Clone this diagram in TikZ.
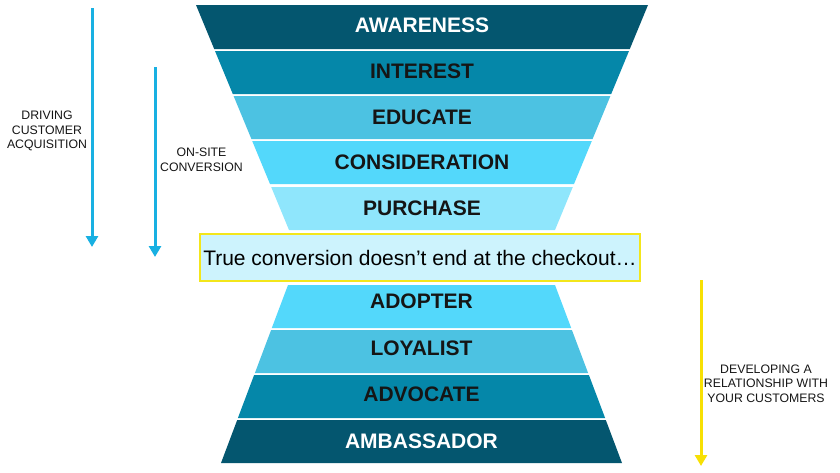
\documentclass[tikz,border=0pt]{standalone}
\usepackage{fontspec}
\setmainfont{Liberation Sans}
\usetikzlibrary{arrows.meta}
\definecolor{cA}{HTML}{04566F}
\definecolor{cB}{HTML}{0587A9}
\definecolor{cC}{HTML}{4CC2E2}
\definecolor{cD}{HTML}{53D8FB}
\definecolor{cE}{HTML}{8FE6FC}
\definecolor{boxfill}{HTML}{CDF3FD}
\definecolor{boxline}{HTML}{F3E61B}
\definecolor{bluearrow}{HTML}{18B0E2}
\definecolor{yelarrow}{HTML}{F7E004}
\definecolor{darktext}{HTML}{151515}
\tikzset{
  bandtext/.style={font=\fontsize{21}{24}\selectfont\bfseries, text=darktext, inner sep=0pt},
  bandwhite/.style={bandtext, text=white},
  sidelabel/.style={font=\fontsize{12.3}{14.5}\selectfont, text=darktext, align=center, inner sep=0pt},
  bluearr/.style={draw=bluearrow, line width=3pt, -{Triangle[width=12pt,length=11pt]}},
  yelarr/.style={draw=yelarrow, line width=3pt, -{Triangle[width=12pt,length=11pt]}},
}
\begin{document}
\begin{tikzpicture}[x=1pt,y=-1pt]
\useasboundingbox (0,0) rectangle (840,472);
% top funnel
\fill[cA] (196,5) -- (648,5) -- (629.8,49) -- (214.2,49) -- cycle;
\fill[cB] (215.0,51) -- (629.0,51) -- (611.2,94) -- (232.8,94) -- cycle;
\fill[cC] (233.6,96) -- (610.4,96) -- (592.6,139) -- (251.4,139) -- cycle;
\fill[cD] (252.2,141) -- (591.8,141) -- (574.0,184) -- (270.0,184) -- cycle;
\fill[cE] (271.2,187) -- (572.8,187) -- (555,230) -- (289,230) -- cycle;
\node[bandwhite] (awareness) at (422,25) {AWARENESS};
\node[bandtext] (interest) at (422,71) {INTEREST};
\node[bandtext] (educate) at (422,117.5) {EDUCATE};
\node[bandtext] (consideration) at (422,162.5) {CONSIDERATION};
\node[bandtext] (purchase) at (422,208.5) {PURCHASE};
% middle box
\node[draw=boxline, line width=1.5pt, fill=boxfill, minimum width=440pt, minimum height=47pt, inner sep=0pt,
      font=\fontsize{21}{24}\selectfont, text=black] (box) at (420,257.5) {True conversion doesn’t end at the checkout…};
% bottom funnel
\fill[cD] (288,285) -- (555,285) -- (571.2,328) -- (271.8,328) -- cycle;
\fill[cC] (271.1,330) -- (571.9,330) -- (588.1,373) -- (254.9,373) -- cycle;
\fill[cB] (254.1,375) -- (588.9,375) -- (605.1,418) -- (237.9,418) -- cycle;
\fill[cA] (237.2,420) -- (605.8,420) -- (622,463) -- (221,463) -- cycle;
\node[bandtext] (adopter) at (421.5,301.5) {ADOPTER};
\node[bandtext] (loyalist) at (421.5,348.5) {LOYALIST};
\node[bandtext] (advocate) at (421.5,394.5) {ADVOCATE};
\node[bandwhite] (ambassador) at (421.5,441) {AMBASSADOR};
% side arrows
\coordinate (a1s) at (92,8);
\coordinate (a1e) at (92,247);
\coordinate (a2s) at (155,67);
\coordinate (a2e) at (155,257);
\coordinate (a3s) at (701,280);
\coordinate (a3e) at (701,466);
\draw[bluearr] (a1s) -- (a1e);
\draw[bluearr] (a2s) -- (a2e);
\draw[yelarr] (a3s) -- (a3e);
\node[sidelabel] (driving) at (47,131) {DRIVING\\CUSTOMER\\ACQUISITION};
\node[sidelabel] (onsite) at (201.5,160) {ON-SITE\\CONVERSION};
\node[sidelabel] (developing) at (766,383.5) {DEVELOPING A\\RELATIONSHIP WITH\\YOUR CUSTOMERS};
\end{tikzpicture}
\end{document}
